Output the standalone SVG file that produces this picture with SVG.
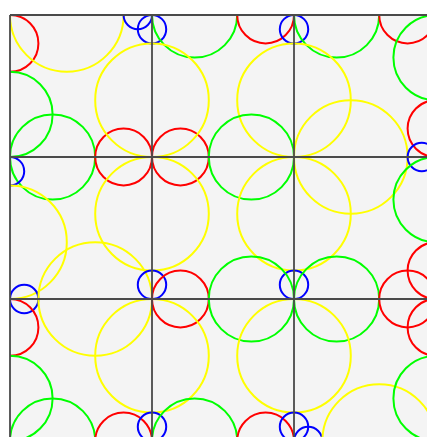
<svg xmlns="http://www.w3.org/2000/svg" width="427" height="437" viewBox="0 0 427 437">
<style>
.c{fill:none;stroke-width:2}
.b{stroke:#0000ff}
.r{stroke:#ff0000}
.g{stroke:#00ff00}
.y{stroke:#ffff00}
.grid{stroke:#4a4a4a;stroke-width:1.8;fill:none}
</style>
<defs>
<clipPath id="clip"><rect x="10" y="15" width="426" height="426"/></clipPath>
</defs>
<rect width="427" height="437" fill="#ffffff"/>
<rect x="10" y="15" width="426" height="426" fill="#f4f4f4"/>
<g id="circles" clip-path="url(#clip)">
<circle class="c r" cx="10" cy="43.4" r="28.4"/>
<circle class="c y" cx="66.8" cy="15" r="56.8"/>
<circle class="c b" cx="152" cy="29.2" r="14.2"/>
<circle class="c b" cx="137.8" cy="15" r="14.2"/>
<circle class="c g" cx="194.6" cy="15" r="42.6"/>
<circle class="c r" cx="265.6" cy="15" r="28.4"/>
<circle class="c b" cx="294" cy="29.2" r="14.2"/>
<circle class="c g" cx="336.6" cy="15" r="42.6"/>
<circle class="c r" cx="407.6" cy="15" r="28.4"/>
<circle class="c g" cx="436" cy="57.6" r="42.6"/>
<circle class="c g" cx="10" cy="114.4" r="42.6"/>
<circle class="c g" cx="52.6" cy="157" r="42.6"/>
<circle class="c b" cx="10" cy="171.2" r="14.2"/>
<circle class="c y" cx="10" cy="242.2" r="56.8"/>
<circle class="c r" cx="123.6" cy="157" r="28.4"/>
<circle class="c r" cx="180.4" cy="157" r="28.4"/>
<circle class="c y" cx="152" cy="100.2" r="56.8"/>
<circle class="c y" cx="152" cy="213.8" r="56.8"/>
<circle class="c y" cx="294" cy="100.2" r="56.8"/>
<circle class="c g" cx="251.4" cy="157" r="42.6"/>
<circle class="c y" cx="350.8" cy="157" r="56.8"/>
<circle class="c y" cx="294" cy="213.8" r="56.8"/>
<circle class="c r" cx="436" cy="128.6" r="28.4"/>
<circle class="c b" cx="421.8" cy="157" r="14.2"/>
<circle class="c g" cx="436" cy="199.6" r="42.6"/>
<circle class="c b" cx="24.2" cy="299" r="14.2"/>
<circle class="c r" cx="10" cy="327.4" r="28.4"/>
<circle class="c y" cx="95.2" cy="299" r="56.8"/>
<circle class="c b" cx="152" cy="284.8" r="14.2"/>
<circle class="c r" cx="180.4" cy="299" r="28.4"/>
<circle class="c y" cx="152" cy="355.8" r="56.8"/>
<circle class="c b" cx="294" cy="284.8" r="14.2"/>
<circle class="c g" cx="251.4" cy="299" r="42.6"/>
<circle class="c g" cx="336.6" cy="299" r="42.6"/>
<circle class="c y" cx="294" cy="355.8" r="56.8"/>
<circle class="c r" cx="407.6" cy="299" r="28.4"/>
<circle class="c r" cx="436" cy="270.6" r="28.4"/>
<circle class="c r" cx="436" cy="327.4" r="28.4"/>
<circle class="c g" cx="10" cy="398.4" r="42.6"/>
<circle class="c g" cx="52.6" cy="441" r="42.6"/>
<circle class="c r" cx="123.6" cy="441" r="28.4"/>
<circle class="c b" cx="152" cy="426.8" r="14.2"/>
<circle class="c g" cx="194.6" cy="441" r="42.6"/>
<circle class="c r" cx="265.6" cy="441" r="28.4"/>
<circle class="c b" cx="294" cy="426.8" r="14.2"/>
<circle class="c b" cx="308.2" cy="441" r="14.2"/>
<circle class="c y" cx="379.2" cy="441" r="56.8"/>
<circle class="c g" cx="436" cy="398.4" r="42.6"/>
</g>
<g id="grid" class="grid">
<path d="M10 15V441M152 15V441M294 15V441M10 15H436M10 157H436M10 299H436"/>
</g>
</svg>
